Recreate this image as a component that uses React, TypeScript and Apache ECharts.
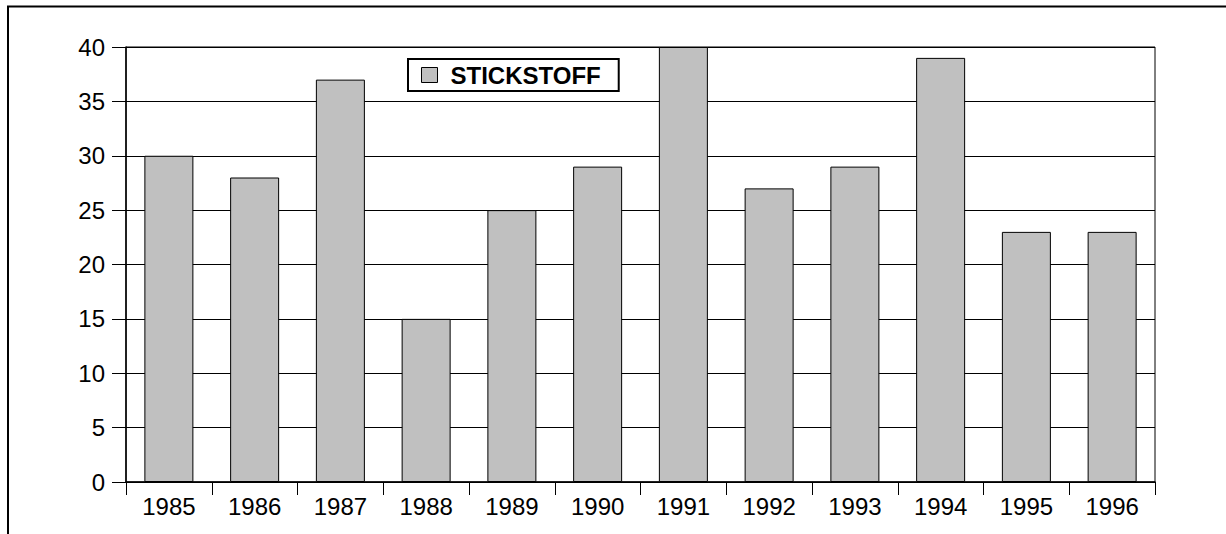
import React, { useEffect, useRef } from "react";
import * as echarts from "echarts";

const categories = ["1985", "1986", "1987", "1988", "1989", "1990", "1991", "1992", "1993", "1994", "1995", "1996"];
const stickstoff = [30, 28, 37, 15, 25, 29, 40, 27, 29, 39, 23, 23];
const seriesName = "STICKSTOFF";

const FONT = "'Liberation Sans', Arial, sans-serif";

export default function App() {
  const ref = useRef<HTMLDivElement>(null);
  useEffect(() => {
    if (!ref.current) return;
    const chart = echarts.init(ref.current, undefined, { renderer: "svg" });
    chart.setOption({
      animation: false,
      backgroundColor: "#ffffff",
      textStyle: { fontFamily: FONT, color: "#000" },
      graphic: [
        {
          type: "rect",
          shape: { x: 8, y: 6.5, width: 1400, height: 700 },
          style: { fill: "none", stroke: "#000", lineWidth: 2 },
          silent: true,
          z: 0,
        },
      ],
      grid: {
        left: 126,
        top: 47,
        right: 71,
        bottom: 52,
        show: true,
        borderColor: "#000",
        borderWidth: 1,
        backgroundColor: "transparent",
      },
      legend: {
        left: 408,
        top: 59,
        padding: [4, 18, 4, 13],
        borderColor: "#000",
        borderWidth: 2,
        itemWidth: 16,
        itemHeight: 15,
        itemGap: 10,
        icon: "rect",
        textStyle: { fontFamily: FONT, fontSize: 24, fontWeight: "bold", color: "#000", padding: [2, 0, 0, 8] },
        data: [{ name: seriesName, itemStyle: { color: "#c0c0c0", borderColor: "#000", borderWidth: 1 } }],
      },
      xAxis: {
        type: "category",
        data: categories,
        boundaryGap: true,
        axisLine: { show: true, lineStyle: { color: "#000", width: 1.5 } },
        axisTick: { show: true, length: 13, lineStyle: { color: "#000" } },
        axisLabel: { fontFamily: FONT, fontSize: 24, color: "#000", margin: 12 },
        splitLine: { show: false },
      },
      yAxis: {
        type: "value",
        min: 0,
        max: 40,
        interval: 5,
        axisLine: { show: true, lineStyle: { color: "#000", width: 1.5 } },
        axisTick: { show: true, length: 14, lineStyle: { color: "#000" } },
        axisLabel: { fontFamily: FONT, fontSize: 24, color: "#000", margin: 21, padding: [5, 0, 0, 0] },
        splitLine: { show: true, lineStyle: { color: "#000", width: 1 } },
      },
      series: [
        {
          name: seriesName,
          type: "bar",
          data: stickstoff,
          barWidth: 49,
          itemStyle: { color: "#c0c0c0", borderColor: "#000", borderWidth: 1 },
        },
      ],
    });
    return () => chart.dispose();
  }, []);
  return (
    <div
      ref={ref}
      style={{ position: "fixed", left: 0, top: 0, width: 1226, height: 534, background: "#fff" }}
    />
  );
}
